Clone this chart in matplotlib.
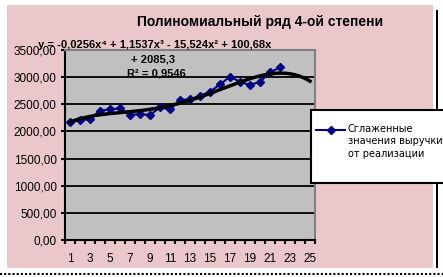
import matplotlib
matplotlib.use("Agg")
import matplotlib.pyplot as plt
from matplotlib.patches import Rectangle
from matplotlib.lines import Line2D
import numpy as np

# smoothed revenue values
periods = list(range(1, 23))
revenue = [2168, 2205, 2228, 2382, 2407, 2425, 2302, 2321, 2302, 2444, 2407,
           2579, 2591, 2658, 2732, 2867, 3008, 2916, 2855, 2916, 3088, 3180]

# trendline coefficients shown on the chart (x^4 .. x^0)
trend_coef = [-0.0256, 1.1537, -15.524, 100.68, 2085.3]
trend_end = 25

title = "Полиномиальный ряд 4-ой степени"
legend_label = "Сглаженные\nзначения выручки\nот реализации"
eq_line1 = "y = -0,0256x⁴ + 1,1537x³ - 15,524x² + 100,68x"
eq_line2 = "+ 2085,3"
eq_line3 = "R² = 0,9546"
y_ticks = [0, 500, 1000, 1500, 2000, 2500, 3000, 3500]
x_labels = list(range(1, 26, 2))

W, H = 443, 277
fig = plt.figure(figsize=(W / 100, H / 100), dpi=100)
fig.patch.set_facecolor("white")

def fx(px):
    return px / W

def fy(py):
    return 1 - py / H

# pink chart area + frame bits
fig.patches.append(Rectangle((fx(7), fy(268)), fx(426), 263 / H,
                             transform=fig.transFigure, facecolor="#eac7cb",
                             edgecolor="none", zorder=-10))
fig.patches.append(Rectangle((fx(435.5), fy(268)), fx(2.5), 258 / H,
                             transform=fig.transFigure, facecolor="black",
                             edgecolor="none", zorder=-10))
fig.lines.append(Line2D([0, 1], [fy(273.5), fy(273.5)], transform=fig.transFigure,
                        color="black", lw=1.5, ls=(0, (1, 1)), zorder=-10))

ax = fig.add_axes([fx(65), fy(240), fx(250), 190 / H])
ax.set_facecolor("#c0c0c0")

ax.plot(periods, revenue, color="#000080", lw=1.5, marker="D", markersize=4.5,
        zorder=3)

xs = np.linspace(1, trend_end, 200)
ax.plot(xs, np.polyval(trend_coef, xs), color="black", lw=2.5, zorder=4,
        clip_on=False)

ax.set_xlim(0.5, 25.5)
ax.set_ylim(0, 3500)
ax.set_yticks(y_ticks)
ax.set_yticklabels([f"{v},00" for v in y_ticks])
ax.set_xticks(x_labels)
ax.set_xticks(np.arange(0.5, 26, 1), minor=True)
ax.tick_params(axis="x", which="major", length=0, pad=9)
ax.tick_params(axis="x", which="minor", length=3, width=1.5, direction="out")
ax.tick_params(axis="y", length=3, width=1.5, direction="out", pad=3)
for lab in ax.get_xticklabels() + ax.get_yticklabels():
    lab.set_family("Liberation Sans")
    lab.set_fontsize(8.5)
ax.grid(axis="y", color="black", lw=1.3)
ax.set_axisbelow(True)
for s in ["top", "right"]:
    ax.spines[s].set_color("#808080")
    ax.spines[s].set_linewidth(1.5)
ax.spines["left"].set_linewidth(1.5)
ax.spines["bottom"].set_linewidth(1.5)

fig.text(fx(260), fy(22), title, ha="center", va="center", fontsize=10,
         fontweight="bold", family="Liberation Sans")

eq_font = ["Liberation Sans", "DejaVu Sans"]
fig.text(fx(38), fy(45), eq_line1, ha="left", va="center", fontsize=8,
         fontweight="bold", family=eq_font)
fig.text(fx(153), fy(60), eq_line2, ha="center", va="center", fontsize=8,
         fontweight="bold", family=eq_font)
fig.text(fx(156), fy(73), eq_line3, ha="center", va="center", fontsize=8,
         fontweight="bold", family=eq_font)

# legend box (drawn by hand so it keeps Excel's size and runs off the edge)
fig.patches.append(Rectangle((fx(311), fy(183)), fx(140), 73 / H,
                             transform=fig.transFigure, facecolor="white",
                             edgecolor="black", lw=1.5, zorder=5))
fig.lines.append(Line2D([fx(316), fx(345)], [fy(130), fy(130)],
                        transform=fig.transFigure, color="#000080", lw=1.5,
                        marker="D", markersize=4.5, markevery=[], zorder=6))
fig.lines.append(Line2D([fx(330.5)], [fy(130)], transform=fig.transFigure,
                        color="#000080", marker="D", markersize=4.5,
                        ls="none", zorder=6))
fig.text(fx(348), fy(124), legend_label, ha="left", va="top", fontsize=7,
         family="DejaVu Sans", linespacing=1.3, zorder=6)

fig.savefig("out.png", dpi=100)
